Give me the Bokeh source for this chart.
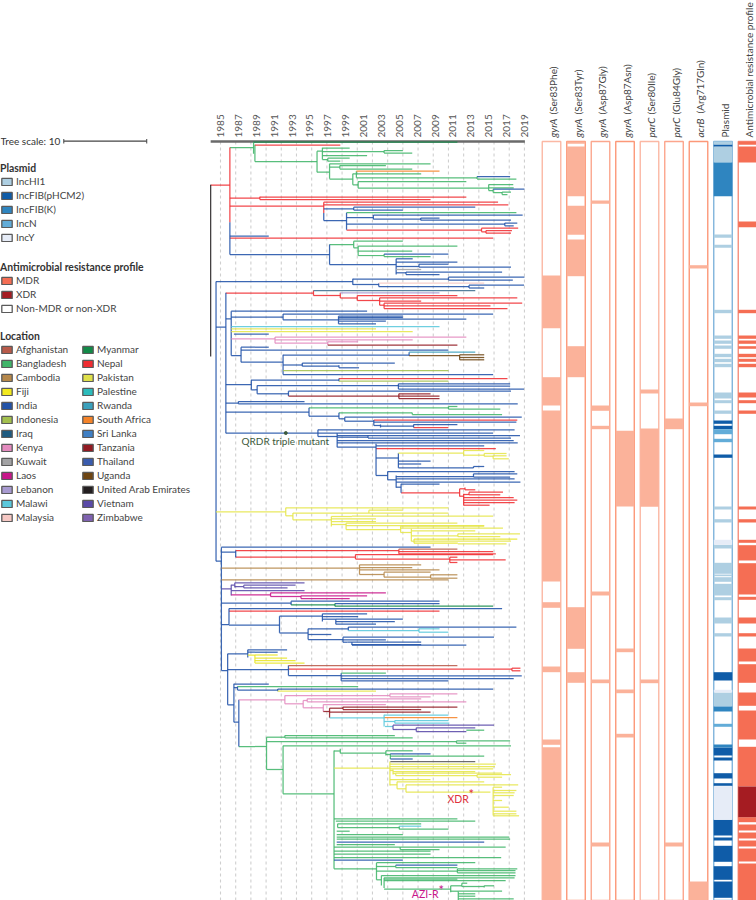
from math import pi, nan
from bokeh.plotting import figure
from bokeh.core.properties import value
from bokeh.models import Range1d, Legend, LegendItem
from bokeh.embed import file_html
from bokeh.resources import INLINE

FONT = "Lato"

year_ticks = list(range(1985, 2020, 2))
grid_years = [1985 + 1.7 * i for i in range(21)]
axis_span = [1983.9, 2019.05]
scale_bar_years = [1967.47, 1976.75]

location_names_a = ["Afghanistan", "Bangladesh", "Cambodia", "Fiji", "India", "Indonesia", "Iraq",
                    "Kenya", "Kuwait", "Laos", "Lebanon", "Malawi", "Malaysia"]
location_colours_a = ["#b85a4a", "#41b56a", "#b5874a", "#f2e91e", "#2152a8", "#a3c04e", "#1d5a80",
                      "#e48bbf", "#a3a3a5", "#c8168a", "#a89ad0", "#5ac8dc", "#f6c8c4"]
location_names_b = ["Myanmar", "Nepal", "Pakistan", "Palestine", "Rwanda", "South Africa", "Sri Lanka",
                    "Tanzania", "Thailand", "Uganda", "United Arab Emirates", "Vietnam", "Zimbabwe"]
location_colours_b = ["#128a48", "#f02d32", "#dfe04a", "#2cbcbc", "#3aa0bc", "#f5842a", "#3f7fc4",
                      "#921a22", "#3a5cae", "#6e4512", "#231f20", "#5a4aa8", "#7f62b0"]

branch_colour = {"B": "#41b56a", "R": "#f02d32", "I": "#2152a8", "P": "#e6e64a", "J": "#e8e628",
                 "O": "#f5842a", "Z": "#3f6f90", "L": "#a89ad0", "K": "#e48bbf", "T": "#921a22",
                 "M": "#5ac8dc", "Y": "#f6c8c4", "N": "#a3c04e", "W": "#3aa0bc", "U": "#6e4512",
                 "C": "#b5874a", "V": "#5a4aa8", "A": "#c8168a", "G": "#128a48", "F": "#b85a4a",
                 "E": "#231f20", "D": "#5a5a5a", "Q": "#a3a3a5"}

# Tree branches: (location code, start year, end year, tip row)
clade_top_h = [
    ("R",1983.9,1986.05,43.5),("B",1986.05,1988.7,6),("G",1988.7,2011.5,0.7),("R",1988.85,1998.4,3.5),
    ("B",1988.85,1995.8,20),("B",1995.8,1996.4,9.7),("B",1995.8,1997.2,30.7),("B",1996.4,1999.45,6.5),
    ("B",1996.4,2003.3,10),("B",2003.3,2005.4,9),("B",2003.3,2006.45,11.5),("B",1996.4,2001.4,14),
    ("B",1996.4,1997,18),("B",1997,1999.45,16.7),("B",1997,1998.4,19.7),("B",1997.2,2008.5,22.3),
    ("B",1997.2,1998.35,25.7),("B",1998.35,2003.5,24),("B",1998.35,2006.45,27.5),("B",1997.2,1999.8,37.5),
    ("B",1999.8,2000.2,32.3),("O",2000.2,2009.5,29.7),("B",2000.2,2007.45,32.3),("B",2000.2,2013.7,36.3),
    ("I",2013.7,2017.4,35),("B",2013.7,2018.1,37.5),("B",1999.8,2000.4,43.3),("B",2000.4,2012.5,40),
    ("B",2000.4,2015,46.7),("B",2015,2017.75,43),("B",2015,2017.8,46.3),("B",2015,2015.5,49),
    ("I",2015.5,2019,47.5),("B",2015.5,2016.5,51),("B",2016.5,2017.5,50.5),("B",2016.5,2017.1,53),
    ("R",1986.05,1989.4,56.7),("R",1989.4,2012.5,55.5),("R",1989.4,2008.5,58),("R",1986.05,1996.55,64.5),
    ("R",1996.55,2016.05,60.7),("R",1996.55,2017.2,63.3),("I",1996.55,1999.9,67.3),("I",1999.9,2013.5,65.7),
    ("I",1999.9,2005.4,68.5),("I",1996.55,1999.1,79),("B",1999.1,2018.1,71),("I",1999.1,2002.1,76),
    ("I",2002.1,2018.8,73.5),("I",2002.1,2007.4,77.7),("I",2007.4,2009.5,76.5),("I",2007.4,2017.5,78.7),
    ("I",1999.1,2016.8,82.7),("I",2016.8,2018.2,81.5),("I",2016.8,2017.8,84.3),("R",1999.1,2014.2,88.5),
    ("R",2014.2,2018.3,86.7),("R",2014.2,2014.7,90.3),("R",2014.7,2017.6,89),("R",2014.7,2017.5,91.7),
    ("I",1986.05,1990.4,94.5),("R",1986.05,2015.5,96.7),("I",1986.05,1997.2,113),("B",1997.2,1999.9,103),
    ("B",1999.9,2005.4,99.7),("B",1999.9,2000.4,106.3),("B",2000.4,2011.5,104.5),("B",2000.4,2006.45,109.7),
    ("B",2000.4,2003.3,114),("I",2003.3,2010.5,112.5),("B",2003.3,2008.5,115),("I",1997.2,2004.65,123),
    ("I",2004.65,2006.5,117.3),("I",2004.65,2011.5,120.5),("I",2004.65,2007.2,125),("I",2007.2,2010.5,122.7),
    ("I",2007.2,2017.5,125.5),("Q",2004.65,2007.45,128),("I",2004.65,2005.75,131.3),("I",2005.75,2016.5,130.5),
    ("I",2005.75,2009.5,133),
]
clade_top_v = [
    ("R",1986.05,6,80.7),("I",1986.05,80.7,113),("B",1988.7,0.7,12.3),("B",1988.85,3.3,20),("B",1995.8,9.7,30.7),
    ("B",1996.4,6.3,18),("B",2003.3,9,11.5),("B",1997,16.7,19.7),("B",1997.2,22.3,37.3),("B",1998.35,24,27.3),
    ("B",1999.8,32.3,43.3),("B",2000.2,29.7,36.3),("B",2013.7,35,37.5),("B",2000.4,40,46.7),("B",2015,43,49),
    ("B",2015.5,47.7,51),("B",2016.5,50.5,53),("R",1989.4,55.3,58),("R",1996.55,60.7,71.5),("I",1996.55,71.5,79),
    ("I",1999.9,65.7,68.5),("I",1999.1,71.3,88.3),("I",2002.1,73.5,77.7),("I",2007.4,76.5,78.7),("I",2016.8,81.5,84.3),
    ("R",2014.2,86.7,90.3),("R",2014.7,89,91.7),("I",1997.2,103,123),("B",1999.9,99.7,106.3),("B",2000.4,104.5,114),
    ("B",2003.3,112.5,115),("I",2004.65,117.3,133),("I",2007.2,122.7,125.5),("I",2005.75,130.5,133),
]

clade_mid_h = [
    ("I",1984.5,1999.8,140),("I",1999.8,2010.5,137.5),("I",2010.5,2019,135.7),("I",2010.5,2017.7,138.5),
    ("I",1999.8,2002.7,143),("Y",2002.7,2014.5,141.7),("I",2002.7,2012.8,145),("I",2012.8,2018.95,143.7),
    ("I",2012.8,2014.5,146.5),("I",1984.5,1985.6,185.5),("R",1985.6,1995.4,151.5),("Z",1995.4,2013.5,149),
    ("R",1995.4,1998.4,154),("L",1998.4,2009.5,151.3),("R",1998.4,2000.3,156.5),("R",2000.3,2011.5,154),
    ("R",2000.3,2002.8,159),("R",2002.8,2018.2,156.3),("R",2002.8,2007.45,159.5),("R",2002.8,2003.3,163.7),
    ("R",2003.3,2018.75,161.7),("R",2003.3,2015.2,164.3),("R",2003.3,2017.1,167),("I",1985.6,1986.2,177.3),
    ("I",1986.2,2001.4,169.7),("I",1986.2,1992,175.5),("I",1992,2015.5,172.5),("I",1992,1998.2,178.3),
    ("I",1998.2,2005.4,174.7),("I",1998.2,2005.4,176),("I",1998.2,2012.5,177.5),("I",1998.2,2003.5,179.7),
    ("I",1998.2,2002.4,182.3),("M",1986.2,2009.5,185),("P",1986.2,2002.4,187.3),("P",1986.2,2006.5,190),
    ("I",1986.5,1990.4,192.7),("K",1986.2,1991.1,197.3),("K",1991.1,2012.5,195.5),("K",1991.1,2006.5,198.3),
    ("K",1991.1,1997,201.7),("K",1997,2000.4,200.3),("T",1997,2011.5,203.5),("I",1986.2,1987.3,214),
    ("I",1987.3,1990.4,205.7),("I",1987.3,2010.5,208.5),("I",1987.3,1992,220.5),("I",1992,2006.1,213.5),
    ("W",2006.1,2013.5,210.7),("U",2006.1,2011.75,214),("U",2011.75,2014.5,213.3),("U",2011.75,2014.5,216),
    ("U",2011.75,2014.5,218.3),("I",1992,1994.15,223.5),("I",1994.15,2004.5,221.5),("I",1994.15,1998.25,224.7),
    ("I",1998.25,2000.5,226.3),("N",1992,2010.5,229),("I",1992,2015.5,233),("I",1985.6,1988.45,243),
    ("I",1988.45,1998.25,238.5),("R",1998.25,2017.1,237),("N",1998.25,2010.5,239.7),("I",1988.45,1989.1,248.3),
    ("I",1989.1,2004.9,244),("I",2004.9,2017.4,242.3),("I",2004.9,2017.4,244.7),("I",2004.9,2018.95,247.5),
    ("I",1989.1,1992.6,252.3),("I",1992.6,2017.5,249.7),("T",1992.6,2004.95,254.5),("T",2004.95,2008.5,252.3),
    ("T",2004.95,2009.5,254.7),("T",2004.95,2009.5,257),("I",1985.6,1987,261.5),("I",1987,1994.4,260),
    ("I",1987,2018.25,262.3),("I",1985.6,1994.9,270.7),("B",1994.9,2010.5,266.3),("B",2010.5,2011.5,265),
    ("B",2010.5,2016.3,267.7),("I",1994.9,1998.25,274.7),("B",1998.25,2006.45,271.3),("B",2006.45,2016.5,273),
    ("I",1998.25,1998.9,277.3),("I",1998.9,2018.7,275.7),("I",1998.9,2002.15,279.7),("R",2002.15,2018.2,278.5),
    ("I",2002.15,2018.1,280.7),("I",2002.15,2002.9,284),("I",2002.9,2006.6,284.7),("I",2006.6,2011.5,283),
    ("R",2006.6,2010.5,286),("I",1985.6,1995.9,291.7),("I",1995.9,2017.9,288.3),("I",1995.9,2015.5,291.5),
    ("I",1995.9,1998.05,295),("I",1998.05,2018.5,294),("I",1998.05,2001.5,295.7),("I",2001.5,2017.5,296.5),
    ("I",1998.05,2017.8,299),("I",1998.05,2018.25,301.3),("I",1998.05,2002.4,305.7),("I",2002.4,2014.5,304.3),
    ("R",2002.4,2015.8,307),("I",2002.4,2004.9,316.5),("P",2004.9,2012.2,311.7),("P",2012.2,2014.5,309),
    ("P",2012.2,2014.5,313.7),("P",2014.5,2017,312),("P",2014.5,2015.5,314.7),("P",2015.5,2017,314.3),
    ("P",2015.5,2017.25,317.3),("I",2004.9,2008.5,319.7),("I",2004.9,2007.45,322.5),("I",2004.9,2013.3,326.3),
    ("I",2013.3,2014.5,325),("I",2002.4,2003.7,334),("I",2003.7,2017.9,330),("I",2003.7,2004.65,338.3),
    ("I",2004.65,2013.3,335),("I",2013.3,2018.2,332.3),("I",2013.3,2017.4,335.5),("I",2004.65,2017.9,337.3),
    ("I",2004.65,2018.55,340.5),("I",2004.65,2005.2,345.7),("I",2005.2,2009.5,342.5),("R",2005.2,2011.75,351.3),
    ("R",2011.75,2012.35,347.3),("R",2012.35,2013.5,348.3),("R",2011.75,2012.2,354.7),("R",2012.2,2012.8,353),
    ("R",2012.8,2016.6,350.7),("R",2012.8,2016.3,353.3),("R",2012.2,2017.8,356),("R",2012.2,2018.2,358.5),
    ("R",2012.2,2017.9,361),("R",2012.2,2015.1,363.7),
]
clade_mid_v = [
    ("E",1983.9,43.3,215),("I",1984.5,140,419.7),("I",1999.8,137.3,143.3),("I",2010.5,135.7,138.5),("I",2002.7,141.7,145),
    ("I",2012.8,143.7,146.5),("I",1985.6,151.3,291.7),("R",1995.4,149,154),("R",1998.4,151.3,156.5),("R",2000.3,154,159),
    ("R",2002.8,156.3,163.7),("R",2003.3,161.7,167),("I",1986.2,169.7,214),("I",1992,172.5,178.3),("I",1998.2,174.7,182.3),
    ("K",1991.1,195.5,201.7),("K",1997,200.3,203.5),("I",1987.3,205.7,220.7),("I",1992,213.3,233),("I",2006.1,210.7,214),
    ("U",2011.75,213.3,218.3),("I",1994.15,221.5,224.7),("I",1998.25,223.7,226.3),("I",1988.45,238.3,248.3),("I",1998.25,237,239.7),
    ("I",1989.1,244,252.3),("I",2004.9,242.3,247.5),("I",1992.6,249.7,254.5),("T",2004.95,252.3,257),("I",1987,260,262.3),
    ("I",1994.9,266.3,274.7),("B",2010.5,265,267.7),("I",1998.25,271.3,277.3),("B",2006.45,271.3,273),("I",1998.9,275.7,279.7),
    ("I",2002.15,278.5,284),("I",2002.9,283,286),("I",2006.6,283,286),("I",1995.9,288.3,295),("I",1998.05,291.7,305.7),
    ("I",2001.5,294,296.5),("I",2002.4,302.3,334),("I",2004.9,311.7,326.3),("P",2012.2,309,313.7),("P",2014.5,312,314.7),
    ("P",2015.5,314.3,317.3),("I",2013.3,325,326.5),("I",2003.7,330,338.3),("I",2004.65,334,346.3),("I",2013.3,332.3,335.5),
    ("I",2005.2,342.3,351.3),("R",2011.75,347.3,355),("R",2012.35,346,348.3),("R",2012.2,352.3,364),("R",2012.8,350.7,353.3),
]

clade_yellow_h = [
    ("P",1984.5,1992.3,370.3),("P",1992.3,2010.5,366.3),("P",1992.3,1993.1,374.3),("P",1993.1,2010.5,371.5),
    ("P",2001.6,2005.4,368.7),("P",1993.1,1997.4,378.3),("P",1997.4,1999.7,375),("P",1999.7,2015.5,374.7),
    ("P",1997.4,2002.4,377.3),("P",1997.4,2002.4,380),("P",1997.4,1999.05,383),("P",1999.05,2011.5,381.7),
    ("P",1999.05,2014.5,384),("P",1999.05,2005.15,388),("P",2005.15,2014.5,384.7),("P",2005.15,2016.6,386.7),
    ("P",2005.15,2006.35,391),("P",2006.35,2013.5,389.3),("P",2006.35,2011.55,394.3),("P",2011.55,2018.5,392.3),
    ("P",2011.55,2016.3,395),("P",2006.35,2006.65,399.7),("J",2006.65,2018.2,397.5),("P",2006.65,2017.5,399.7),
    ("J",2006.65,2011.55,401.7),("P",2011.55,2017,402.3),
]
clade_yellow_v = [
    ("P",1992.3,366.3,374.3),("P",1993.1,371.5,378.3),("P",2001.6,368.7,371.5),("P",1997.4,375,385),("P",1999.05,381.7,388),
    ("P",2005.15,384.7,391),("P",2006.35,387.3,399.7),("P",2011.55,392.3,395),("P",2006.65,397.5,401.7),
]

clade_low_h = [
    ("I",1984.5,1985.1,419.7),("I",1985.1,2008.5,405.7),("I",1985.1,1986.7,410.7),("R",1986.7,2004.95,409),
    ("F",2004.95,2011.5,407.7),("R",2004.95,2015.5,410),("R",2004.95,2015.8,412.3),("R",1986.7,2000.1,415.5),
    ("R",2000.1,2015.5,413),("R",2000.1,2010.65,417.5),("R",2010.65,2011.5,415.7),("R",2010.65,2016.9,418.3),
    ("R",2010.65,2011.5,421),("C",1985.1,2000.55,426.7),("C",2000.55,2007.45,423.3),("C",2000.55,2006.45,426),
    ("C",2000.55,2009.5,428.3),("C",2000.55,2003.3,433),("C",2003.3,2008.5,430.7),("C",2003.3,2008.5,435.7),
    ("C",2008.5,2011.5,433.3),("C",2008.5,2011.5,436.7),("C",1985.1,2010.5,438.3),("V",1985.1,1986.2,447.3),
    ("V",1986.2,1986.6,443.5),("V",1986.6,1994.4,441.3),("V",1986.6,1987.6,445),("V",1987.6,1993.4,443.7),
    ("V",1987.6,1992.5,446.3),("V",1986.2,1994.4,449),("A",1986.2,1990.6,453.3),("A",1990.6,2003.5,451.3),
    ("A",1990.6,1994,455),("A",1994,2001.4,454.3),("A",1994,1999.45,457),("I",1985.1,1992.9,461.5),
    ("I",1992.9,2009.5,459.7),("G",1992.9,1997.8,463.3),("I",1997.8,2009.5,462),("G",1997.8,2015.5,464.7),
    ("I",1985.1,1985.95,483),("I",1985.95,2016.5,467),("R",1985.95,2009.5,469.7),("I",1985.95,1991.6,483.5),
    ("I",1991.6,1996.4,474.7),("I",1996.4,2001.4,472.3),("I",1996.4,2000.4,475),("I",1996.4,1997.9,477.7),
    ("I",1997.9,2005.4,477.7),("I",1997.9,2004.5,480),("I",1997.9,2002.4,482.7),("I",1991.6,1994.8,491.5),
    ("I",1994.8,1999.3,487.3),("I",1999.3,2018.1,485.5),("M",1999.3,2007.2,489),("M",2007.2,2009.5,487.3),
    ("M",2007.2,2010.5,490.7),("I",1994.8,1997.4,493),("I",1994.8,1998.7,498),("I",1998.7,2015.6,495.7),
    ("I",1998.7,2003.5,498.3),("I",1998.7,1999.2,500.7),("I",1999.2,2007.45,500.7),("I",1999.7,2012.5,503.5),
    ("I",1999.7,2007.45,503),("I",1985.1,1985.8,529),("I",1985.8,1988.05,512.3),("I",1988.05,1992.45,508.3),
    ("I",1988.05,1991.4,510.7),("J",1988.05,1991.4,513.5),("J",1988.85,1992.45,516.5),("J",1988.85,1993.4,519),
    ("J",1988.85,1994.4,521.5),("I",1985.8,1992.6,528),("F",1992.6,2011.5,524),("R",1992.6,2017.6,527.7),
    ("R",2017.6,2018.55,526.7),("R",2017.6,2018.55,529.3),("I",1992.6,1998.5,534),("B",1998.5,2003.5,531.7),
    ("I",1998.5,2018.7,534.3),("I",1998.5,2017.8,537),("I",1998.5,2010.5,539.3),("I",1985.8,1986.5,563.3),
    ("I",1986.5,1990.4,542.5),("I",1986.5,1986.9,546),("B",1986.9,2000.4,545),("I",1986.9,1991.4,548.5),
    ("I",1991.4,2015.5,547.5),("P",1991.4,2002.4,549.7),("I",1986.5,1987.05,580.7),("K",1987.05,1992.2,558.3),
    ("K",1992.2,2003.95,554),("K",2003.95,2011.5,552.3),("K",2003.95,2008.5,555.3),("K",1992.2,1994.25,562.3),
    ("K",1994.25,1994.7,559),("K",1994.7,2007.45,557.3),("K",1994.7,2012.5,560.3),("K",1994.25,1996.5,566.3),
    ("K",1996.5,2003.5,563),("T",1996.5,1997.2,570),("T",1997.2,1998.7,566.7),("T",1998.7,2011.5,565.5),
    ("T",1998.7,2007.45,568),("T",1997.2,2008.5,570.7),("M",1997.2,2003.3,576.3),("M",2003.3,2010.5,573.7),
    ("O",2003.3,2011.5,576),("M",2003.3,2004.5,580),("M",2004.5,2010.5,579),("M",2004.5,2010.6,581.7),
    ("M",2003.4,2004.3,585),("V",2004.3,2015.6,583.7),("V",2004.3,2006.9,588),("V",2006.9,2013.5,586.3),
    ("V",2006.9,2012.5,590),("B",2012.5,2014.5,588.7),
]
clade_low_v = [
    ("I",1985.1,405.7,529),("I",1986.7,409,415.7),("R",2004.95,407.7,412.3),("R",2000.1,413,417.5),("R",2010.65,415.7,421),
    ("C",2000.55,423.3,433),("C",2003.3,430.7,435.7),("C",2008.5,433.3,436.7),("V",1986.2,443.3,454),("V",1986.6,441.3,446),
    ("V",1987.6,443.7,446.3),("A",1990.6,451.3,455),("A",1994,454.3,457),("I",1992.9,459.7,463.5),("G",1997.8,462,464.7),
    ("I",1985.95,467,483),("I",1991.6,474.7,491.3),("I",1996.4,472.3,480),("I",1997.9,477.7,482.7),("I",1994.8,487.3,498),
    ("I",1999.3,485.5,489),("M",2007.2,487.3,490.7),("I",1998.7,495.7,500.7),("I",1999.7,500.7,503.5),("I",1985.8,512.3,563.3),
    ("I",1988.05,508.3,516),("J",1988.85,513.5,521.5),("I",1992.6,524,534),("I",1998.5,531.7,539.3),("R",2017.6,526.7,529.3),
    ("I",1986.5,542.3,580.7),("I",1986.9,545,548.5),("I",1991.4,547.5,549.7),("I",1987.05,558.3,605),("K",1992.2,554,562.3),
    ("K",2003.95,552.3,555.3),("K",1994.25,559,566.3),("K",1994.7,557.3,560.3),("K",1996.5,563,570),("T",1997.2,566.7,576.3),
    ("T",1998.7,565.5,568),("M",2003.3,573.3,585),("M",2004.5,579,581.7),("V",2004.3,583.7,588),("V",2006.9,586.3,590),
]

clade_green_h = [
    ("B",1987.05,1990.15,605),("B",1990.15,1992.2,595.7),("B",1992.2,2004.5,594),("B",1992.2,2006.5,596.3),
    ("B",1990.15,2011.4,600),("B",2011.4,2017.4,599.3),("B",2011.4,2012.5,601.7),("B",1990.15,1992,628),
    ("B",1992,2017.5,604.3),("B",1992,1997.7,652.3),("B",1997.7,1998.4,609.5),("B",1998.4,2003.5,611.7),
    ("B",2003.5,2006.5,609.3),("B",2003.5,2004,613),("I",2004,2008.5,612.3),("B",2004,2014.5,614.7),
    ("I",2004,2006.5,617.5),("D",2004,2013.5,620),("P",1997.7,2003.95,626.7),("P",2003.95,2015.8,622.7),
    ("P",2003.95,2015.7,625),("P",2003.95,2015.5,627.3),("P",2003.95,2004.3,629),("P",2004.3,2013.5,630),
    ("P",2004.3,2004.6,632),("P",2004.6,2016.5,631.7),("P",2004.6,2013.7,634),("P",2013.7,2017.5,633),
    ("P",2013.7,2016.5,635.7),("P",2003.95,2008.5,638),("P",2003.95,2004.75,643.3),("P",2004.75,2014.5,640.3),
    ("P",2004.75,2005.75,647.3),("P",2005.75,2018.3,643.3),("P",2005.75,2015.2,650.7),("P",2015.5,2016.5,645.7),
    ("P",2015.5,2018.1,649),("P",2015.5,2017.9,651.3),("P",2015.5,2017.8,654),("P",2015.5,2016.5,659),
    ("P",2015.5,2017.25,665.7),("P",2015.5,2018.1,669.7),("P",2015.5,2018.1,672.3),("P",2015.5,2018.4,674.3),
    ("B",1997.7,2011.5,677.3),("B",1997.9,2013.5,679.7),("B",1998.1,2007.45,682.3),("B",1998.1,2005,686),
    ("M",2005,2007.45,684.7),("B",2005,2010.5,687.7),("B",1998,1999.45,689.7),("B",1998,2005.4,693),
    ("B",1998,2017.3,695.7),("B",1998,2017.4,697.7),("I",1998,2014.5,700.5),("B",1998,2004.5,703),
    ("B",1997.7,2005.1,705.7),("B",2005.1,2016.9,705.5),("B",2005.1,2009.5,708),("B",1997.7,2008.5,709.7),
    ("B",1997.7,2008.5,712.7),("B",1997.7,2016.4,716),("I",1997.7,2005.4,718.5),("B",1997.7,2002.45,727.3),
    ("B",2002.45,2013.5,721),("B",2002.45,2004.6,725),("I",2004.6,2011.5,723.7),("B",2004.6,2011.5,726),
    ("B",2002.45,2011.5,729.7),("B",2011.5,2018.2,727.3),("B",2011.5,2018,729),("B",2011.5,2018,731.3),
    ("B",2002.45,2003,738.3),("B",2003,2018,734),("B",2003.3,2017.9,736.3),("B",2003.3,2016.9,739),
    ("B",2003.3,2011.5,737.5),("B",2003.3,2010.75,747.7),("B",2010.75,2012,744.3),("B",2012,2012.6,741.7),
    ("B",2012,2014.5,745),("B",2014.5,2015.6,744.3),("B",2010.75,2011.6,749.7),("B",2011.6,2016.5,749.7),
    ("B",2011.6,2013.5,752.3),("B",2011.6,2013.5,754.7),("B",2011.6,2017.8,757.3),
]
clade_green_v = [
    ("B",1990.15,595.7,628),("B",1992.2,594,596.3),("B",2011.4,599.3,601.7),("B",1992,604.3,652.3),("B",1997.7,609,727.3),
    ("B",1998.4,607.3,611.7),("B",2003.5,609.3,614),("B",2004,612.3,617.5),("P",2003.95,620,644),("P",2004.3,628,633),
    ("P",2004.6,631.7,634),("P",2013.7,633,635.7),("P",2004.75,640.3,647.3),("P",2005.75,643.3,650.7),("P",2015.5,645.7,674),
    ("B",1998.1,682.3,686),("B",2005,684.7,687.7),("B",2005.1,705.5,708),("B",2002.45,721.3,738.3),("B",2004.6,723.7,726),
    ("B",2011.5,727.3,731.3),("B",2003,734,744),("B",2003.3,736.3,746.5),("B",2010.75,744.3,750.7),("B",2012,741.7,745),
    ("B",2014.5,744.3,746),("B",2011.6,749.7,759),
]

# Mutation and typing strips: filled tip-row spans
column_names = ["gyrA (Ser83Phe)", "gyrA (Ser83Tyr)", "gyrA (Asp87Gly)", "gyrA (Asp87Asn)",
                "parC (Ser80Ile)", "parC (Glu84Gly)", "acrB (Arg717Gln)", "Plasmid",
                "Antimicrobial resistance profile"]
gyrA_ser83phe = [[134,186.7],[235.7,264],[269,440],[460.7,466.3],[525,530.7],[598,603.3],[605.7,759]]
gyrA_ser83tyr = [[0,2.3],[5,54.7],[64.3,93.3],[98,134.7],[204.7,235.7],[465.7,507.3],[530.7,541.3]]
gyrA_asp87gly = [[59,62.3],[264,269.3],[284.3,287.7],[450,454],[538,541.7],[701,705]]
gyrA_asp87asn = [[289.3,365],[507,510.7],[548,551.7],[592.3,596]]
parC_ser80ile = [[248,252],[287,365.3],[538,541.7]]
parC_glu84gly = [[277,287.7],[701,705]]
acrB_arg717gln = [[123.7,127],[261,264.7],[740,759]]
mutation_spans = [gyrA_ser83phe, gyrA_ser83tyr, gyrA_asp87gly, gyrA_asp87asn, parC_ser80ile, parC_glu84gly, acrB_arg717gln]

plasmid_names = ["IncHI1", "IncFIB(pHCM2)", "IncFIB(K)", "IncN", "IncY"]
plasmid_colours = ["#aecfe2", "#0f5ca8", "#2f85c0", "#62acd8", "#e6ecf7"]
plasmid_hi1 = [[0,3.3],[5,21],[93,96.3],[103.3,106.3],[168.3,171.7],[194,197.3],[199,202.3],[204,207.3],[212.3,215.7],
               [217.3,220.7],[222.3,225.7],[251,257],[258.7,261.7],[269,272.3],[365,368],[377.7,381],[403.3,407],
               [421.3,432.3],[433,434.7],[435.7,440.3],[442.3,454],[455.7,458.7],[476,482],[491.7,495],[551,565]]
plasmid_phcm2 = [[3.3,5],[279,282.3],[284.3,287.7],[313,316.3],[530.7,539],[606,614],[616,619],[631.7,637],
                 [641.7,644.3],[678.3,694],[696,699],[704.3,720.3],[724.7,738.3],[740,756.3]]
plasmid_k = [[21,54.7],[565,570],[603,606]]
plasmid_n = [[287.7,292.7],[297.3,300.7],[582.3,585.3]]
plasmid_y = [[398.3,403.3],[548.3,551],[644.7,678.3]]
plasmid_spans = [plasmid_hi1, plasmid_phcm2, plasmid_k, plasmid_n, plasmid_y]

amr_names = ["MDR", "XDR", "Non-MDR or non-XDR"]
amr_colours = ["#f56e54", "#a51c22", "#ffffff"]
amr_mdr = [[0,3.3],[5,21],[80,85.7],[168.3,171.7],[194,197.3],[199,202.3],[204.7,207.3],[212.3,215.7],[217.3,220.3],
           [222.3,225.7],[251,256],[258.7,261.7],[269,272.3],[365,368],[377.7,381],[398.3,401.3],[403.7,419],
           [421.7,453],[455.3,458.3],[476,482],[491.7,495],[507,520],[522.7,541.3],[551,564.3],[569,598],
           [605.3,645],[675.7,680.7],[683,689],[691,697],[699,705],[707,720],[722,759]]
amr_xdr = [[645,675.7]]

# Scales: horizontal in calendar years, vertical in tip rows, strips in column index
X0, X1 = 1960.39, 2044.96
C0, C1 = -22.49, 8.367
ROWS = 759
TOP = -141

p = figure(width=756, height=900, x_range=Range1d(X0, X1), y_range=Range1d(ROWS, TOP),
           x_axis_location=None, y_axis_location=None, output_backend="svg", toolbar_location=None,
           min_border=0, outline_line_color=None, background_fill_color="white", border_fill_color="white")
p.extra_x_ranges = {"cols": Range1d(C0, C1)}
p.grid.visible = False


def put_text(x, y, text, colour, size, angle=0.0, x_range_name="default", style="normal"):
    p.text(x=[x], y=[y], text=[text], angle=angle, x_range_name=x_range_name, text_color=colour,
           text_font=value(FONT), text_font_size=size, text_font_style=style, text_align="left",
           text_baseline="middle")


# Year grid and axis
p.segment(x0=grid_years, x1=grid_years, y0=[0] * len(grid_years), y1=[ROWS] * len(grid_years),
          line_color="#cfcfcf", line_dash="3 3", line_width=1.1)
p.segment(x0=[axis_span[0]], x1=[axis_span[1]], y0=[0], y1=[0], line_color="#6a6a6a", line_width=2.5)
p.text(x=year_ticks, y=[-4] * len(year_ticks), text=[str(y) for y in year_ticks], angle=pi / 2,
       text_color="#555555", text_font=value(FONT), text_font_size="10px", text_align="left",
       text_baseline="middle")

# Tree
horizontal = clade_top_h + clade_mid_h + clade_yellow_h + clade_low_h + clade_green_h
vertical = clade_top_v + clade_mid_v + clade_yellow_v + clade_low_v + clade_green_v
for code, col in branch_colour.items():
    hs = [b for b in horizontal if b[0] == code]
    vs = [b for b in vertical if b[0] == code]
    x0 = [b[1] for b in hs] + [b[1] for b in vs]
    x1 = [b[2] for b in hs] + [b[1] for b in vs]
    y0 = [b[3] for b in hs] + [b[2] for b in vs]
    y1 = [b[3] for b in hs] + [b[3] for b in vs]
    p.segment(x0=x0, x1=x1, y0=y0, y1=y1, line_color=col, line_width=1.25, line_alpha=0.88)

# Strips
HALF = 0.378
edge = ["#fbb8a4", "#fc9878", "#fba78e", "#fc9878", "#fbb8a4", "#fca58c", "#fc9878", "#80b4dc", "#f58e7c"]
for i in range(9):
    p.quad(left=[i - HALF], right=[i + HALF], bottom=[ROWS], top=[0], x_range_name="cols",
           fill_color="white", line_color=edge[i], line_width=1.4)


def strip(i, spans, colour):
    p.quad(left=[i - HALF] * len(spans), right=[i + HALF] * len(spans),
           top=[s[0] for s in spans], bottom=[s[1] for s in spans],
           x_range_name="cols", fill_color=colour, line_color=None)


for i, spans in enumerate(mutation_spans):
    strip(i, spans, "#fbb29a")
for spans, colour in zip(plasmid_spans, plasmid_colours):
    strip(7, spans, colour)
strip(8, amr_mdr, amr_colours[0])
strip(8, amr_xdr, amr_colours[1])

# Column headers
HEAD_ROW = -4
HEAD_SIZE = "10px"
italic_width = {"gyrA": 23, "parC": 23, "acrB": 24}
for i, name in enumerate(column_names):
    first = name.split(" ")[0]
    if first in italic_width:
        put_text(i + 0.08, HEAD_ROW, first, "#444444", HEAD_SIZE, pi / 2, "cols", "italic")
        put_text(i + 0.08, HEAD_ROW - italic_width[first], name[len(first) + 1:], "#444444", HEAD_SIZE, pi / 2, "cols")
    else:
        put_text(i + 0.08, HEAD_ROW, name, "#444444", HEAD_SIZE, pi / 2, "cols")

# Tree scale
put_text(X0, -0.5, "Tree scale: 10", "#333333", "10px")
p.segment(x0=[scale_bar_years[0]], x1=[scale_bar_years[1]], y0=[-0.3], y1=[-0.3], line_color="#444444", line_width=1.2)
p.segment(x0=scale_bar_years, x1=scale_bar_years, y0=[-2.5, -2.5], y1=[2, 2], line_color="#444444", line_width=1)

# In-plot notes
put_text(1987.35, 299, "QRDR triple mutant", "#3c5a3c", "10px")
put_text(2010.4, 657, "XDR", "#e0323c", "10.5px")
put_text(2012.75, 652.5, "*", "#e0323c", "13px")
put_text(2006.4, 752.5, "AZI-R", "#c8168a", "10.5px")
put_text(2009.4, 748.5, "*", "#c8168a", "13px")
p.scatter(x=[1992.3], y=[291.5], size=3, color="#3c5a3c")


# Legends
def legend(names, colours, x, y, title=None):
    items = []
    for n, c in zip(names, colours):
        r = p.quad(left=[nan], right=[nan], top=[nan], bottom=[nan], fill_color=c, line_color="#5a5a5a", line_width=1.3)
        items.append(LegendItem(label=n, renderers=[r]))
    lg = Legend(items=items, location=(x, y), orientation="vertical", padding=0, margin=0, spacing=2,
                glyph_width=13, glyph_height=9, label_height=9, label_standoff=3,
                background_fill_alpha=0, border_line_color=None, label_text_font=FONT,
                label_text_font_size="10px", label_text_color="#444444", label_text_baseline="middle")
    if title:
        lg.title = title
        lg.title_text_font = FONT
        lg.title_text_font_size = "10.4px"
        lg.title_text_font_style = "bold"
        lg.title_text_color = "#333333"
        lg.title_standoff = 1
    p.add_layout(lg, "center")


legend(plasmid_names, plasmid_colours, 0, 657, "Plasmid")
legend(amr_names, amr_colours, 0, 586, "Antimicrobial resistance profile")
legend(location_names_a, location_colours_a, 0, 377, "Location")
legend(location_names_b, location_colours_b, 81, 377)

open("out.html", "w").write(file_html(p, INLINE))
